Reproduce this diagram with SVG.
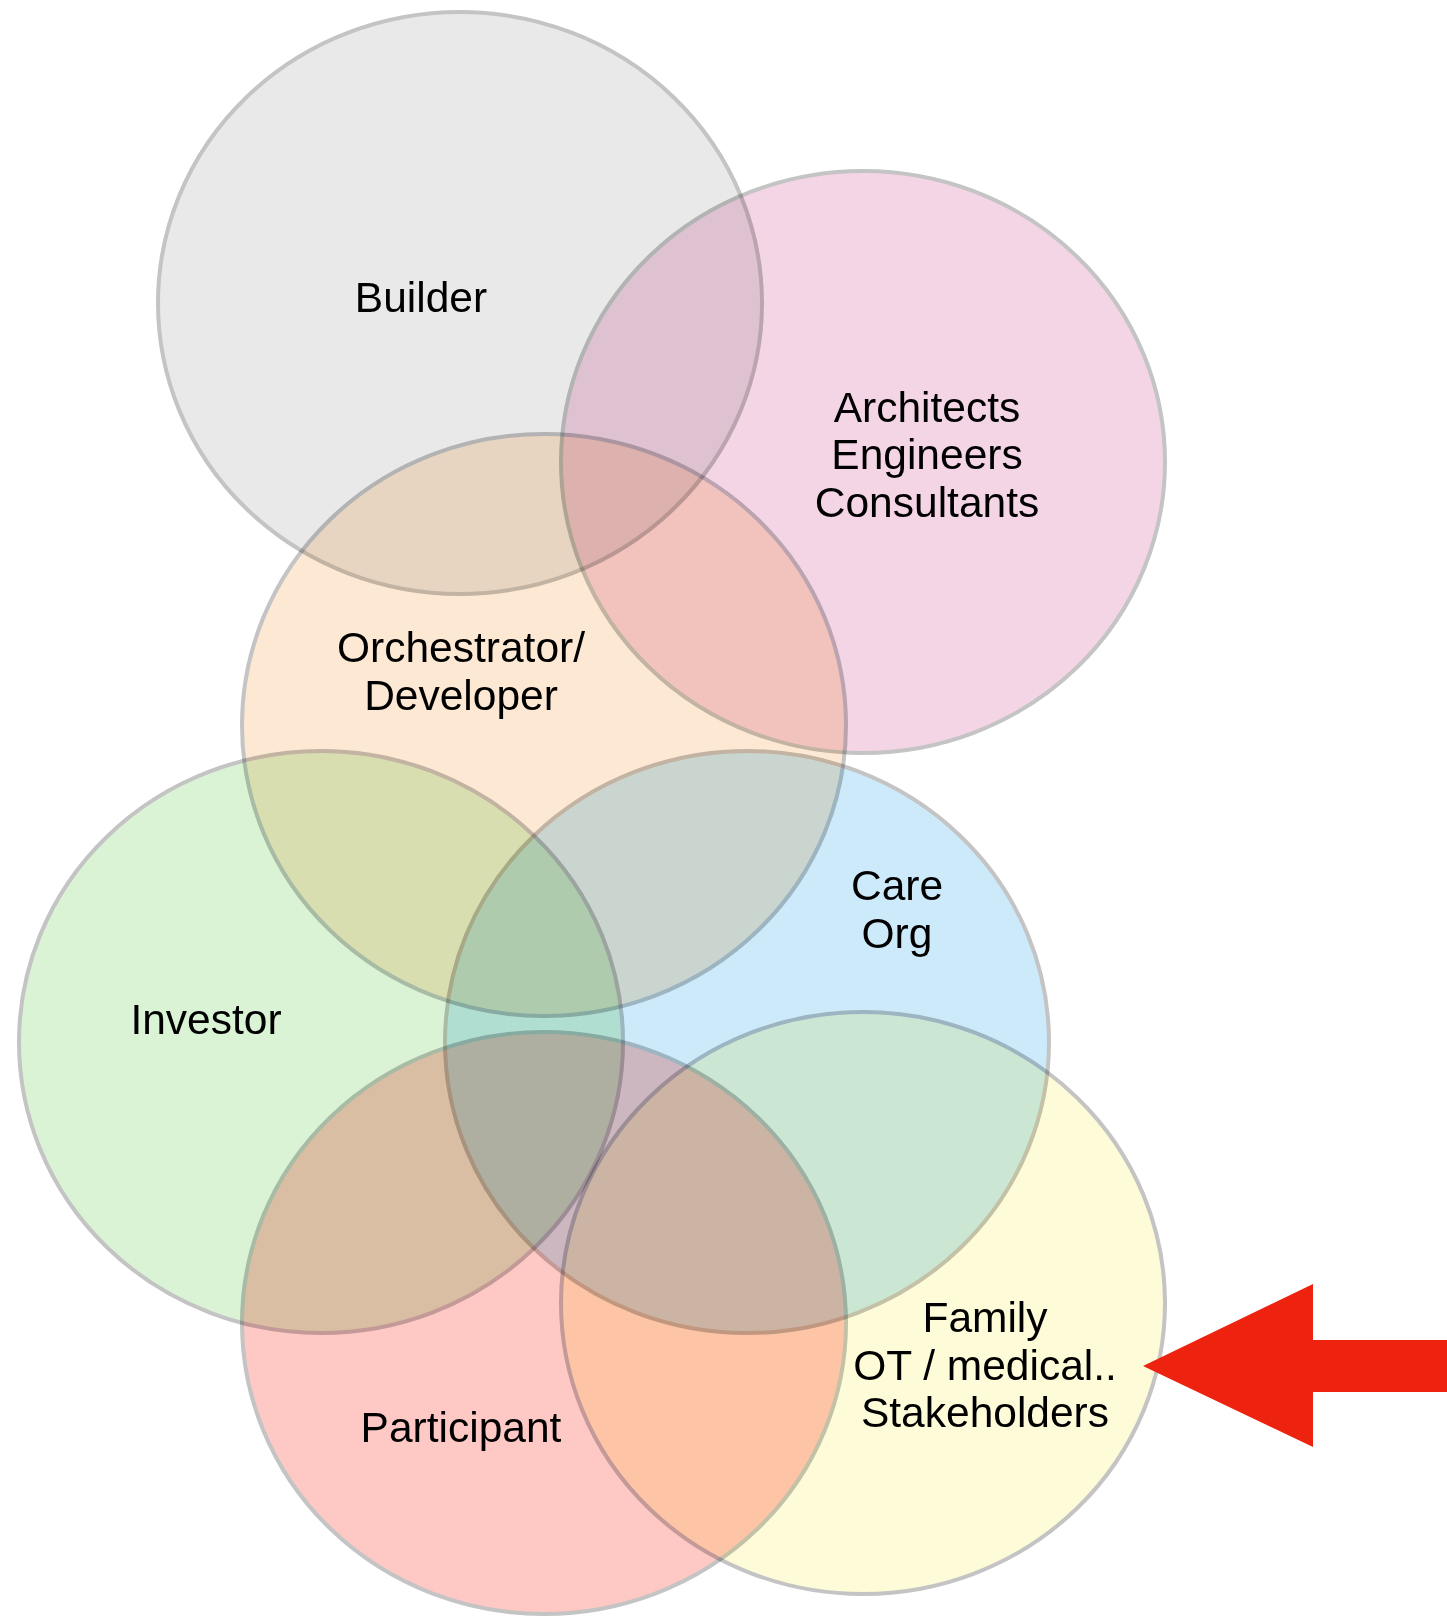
<svg xmlns="http://www.w3.org/2000/svg" width="1447" height="1616" viewBox="0 0 1447 1616">
<style>
.c{stroke:#c4c4c4;stroke-width:4}
.m > g{mix-blend-mode:multiply}
.t{font-family:"Liberation Sans",Arial,sans-serif;font-size:42.5px;fill:#000;text-anchor:middle}
</style>
<rect width="1447" height="1616" fill="#fff"/>
<g id="circles" class="m">
<g id="builder"><ellipse class="c" cx="460" cy="303" rx="302" ry="291" fill="#e9e9e9"/></g>
<g id="architects"><ellipse class="c" cx="863" cy="462" rx="302" ry="291" fill="#f4d5e5"/></g>
<g id="orchestrator"><ellipse class="c" cx="544" cy="725" rx="302" ry="291" fill="#fde9d3"/></g>
<g id="investor"><ellipse class="c" cx="321" cy="1042" rx="302" ry="291" fill="#dbf3d5"/></g>
<g id="care"><ellipse class="c" cx="747" cy="1042" rx="302" ry="291" fill="#cdeafb"/></g>
<g id="participant"><ellipse class="c" cx="544" cy="1323" rx="302" ry="291" fill="#fec8c4"/></g>
<g id="family"><ellipse class="c" cx="863" cy="1303" rx="302" ry="291" fill="#fefbd8"/></g>
</g>
<g id="labels">
<text class="t" x="421" y="312">Builder</text>
<text class="t" x="927" y="422">Architects</text>
<text class="t" x="927" y="469">Engineers</text>
<text class="t" x="927" y="517">Consultants</text>
<text class="t" x="461" y="662">Orchestrator/</text>
<text class="t" x="461" y="710">Developer</text>
<text class="t" x="206" y="1034">Investor</text>
<text class="t" x="897" y="900">Care</text>
<text class="t" x="897" y="948">Org</text>
<text class="t" x="461" y="1442">Participant</text>
<text class="t" x="985" y="1332">Family</text>
<text class="t" x="985" y="1380">OT / medical..</text>
<text class="t" x="985" y="1427">Stakeholders</text>
</g>
<g id="connectors">
<polygon points="1143,1366 1313,1284 1313,1340 1447,1340 1447,1392 1313,1392 1313,1447" fill="#ee230f"/>
</g>
</svg>
